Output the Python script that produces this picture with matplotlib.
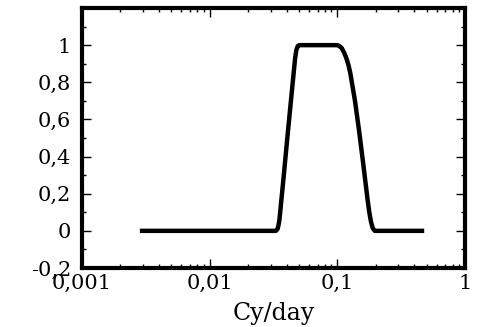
import matplotlib
matplotlib.use("Agg")
import matplotlib.pyplot as plt
from matplotlib.ticker import FixedLocator, FuncFormatter, LogLocator, NullFormatter

# Band-pass filter response, frequency in cycles per day
freq = [0.00284, 0.0330, 0.0340, 0.0346, 0.0352, 0.0379, 0.0407, 0.0438,
        0.0467, 0.0478, 0.0490, 0.0505, 0.1000, 0.1036, 0.1080, 0.1120,
        0.1170, 0.1220, 0.1263, 0.1375, 0.1486, 0.1596, 0.1724, 0.1780,
        0.1833, 0.1893, 0.1963, 0.479]
gain = [0.0, 0.0, 0.01, 0.03, 0.06, 0.285, 0.51, 0.735,
        0.93, 0.975, 0.995, 1.0, 1.0, 0.995, 0.985, 0.965,
        0.935, 0.895, 0.85, 0.70, 0.53, 0.36, 0.17, 0.10,
        0.05, 0.015, 0.0, 0.0]

yticks = [-0.2, 0.0, 0.2, 0.4, 0.6, 0.8, 1.0]
yminor = [-0.1, 0.1, 0.3, 0.5, 0.7, 0.9, 1.1]
xticks = [0.001, 0.01, 0.1, 1]


def comma(v, pos=None):
    s = "%g" % v
    return s.replace(".", ",")


plt.rcParams['font.family'] = ['DejaVu Serif']

fig = plt.figure(figsize=(4.78, 3.27), dpi=100)
ax = fig.add_axes([82 / 478, 1 - 268 / 327, 383 / 478, 260 / 327])

ax.plot(freq, gain, color='black', linewidth=3.2, solid_joinstyle='round',
        solid_capstyle='butt')

ax.set_xscale('log')
ax.set_xlim(0.001, 1)
ax.set_ylim(-0.2, 1.2)

ax.xaxis.set_major_locator(FixedLocator(xticks))
ax.xaxis.set_minor_locator(LogLocator(base=10, subs=range(2, 10)))
ax.xaxis.set_major_formatter(FuncFormatter(comma))
ax.xaxis.set_minor_formatter(NullFormatter())
ax.yaxis.set_major_locator(FixedLocator(yticks))
ax.yaxis.set_minor_locator(FixedLocator(yminor))
ax.yaxis.set_major_formatter(FuncFormatter(comma))

ax.tick_params(which='both', direction='in', top=True, right=True,
               labelsize=15, width=1.0)
ax.tick_params(which='major', length=6.5)
ax.tick_params(which='minor', length=3.2)
ax.tick_params(axis='y', pad=8)
ax.tick_params(axis='x', pad=4)

for sp in ax.spines.values():
    sp.set_linewidth(3.0)

ax.set_xlabel('Cy/day', fontsize=17, labelpad=7)

fig.savefig('out.png', dpi=100)
